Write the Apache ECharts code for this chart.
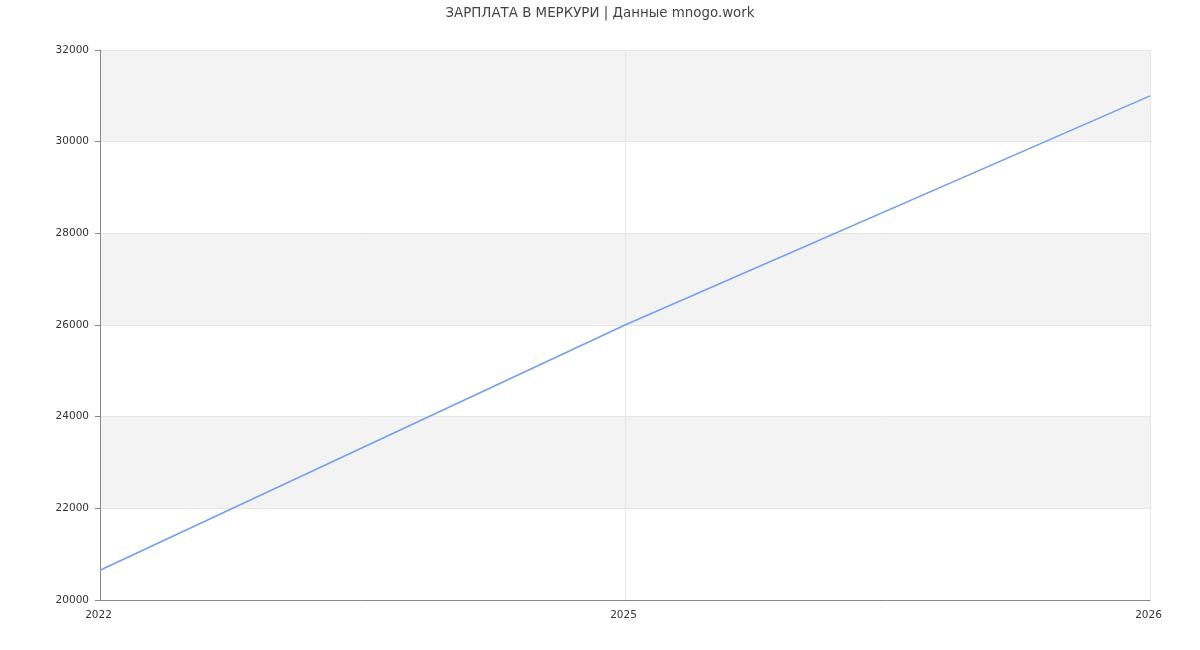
<!DOCTYPE html>
<html>
<head>
<meta charset="utf-8">
<script src="https://cdn.jsdelivr.net/npm/echarts@6/dist/echarts.min.js"></script>
<style>html,body{margin:0;padding:0;background:#fff}#c{width:1200px;height:650px}</style>
</head>
<body>
<div id="c"></div>
<script>
const years = ['2022', '2025', '2026'];
const salary = [20650, 26000, 31000];
const yTicks = { min: 20000, max: 32000, step: 2000 };
const titleText = 'ЗАРПЛАТА В МЕРКУРИ | Данные mnogo.work';

const chart = echarts.init(document.getElementById('c'), null, { renderer: 'canvas' });
chart.setOption({
  animation: false,
  backgroundColor: '#fff',
  textStyle: { fontFamily: 'DejaVu Sans' },
  title: {
    text: titleText,
    left: 'center',
    top: 2,
    textStyle: { fontSize: 13.4, fontWeight: 'normal', color: '#444', fontFamily: 'DejaVu Sans' }
  },
  grid: { left: 100, right: 50, top: 50, bottom: 50, containLabel: false, show: false },
  xAxis: {
    type: 'category',
    data: years,
    boundaryGap: false,
    axisLine: { show: true, lineStyle: { color: '#888', width: 1 } },
    axisTick: { show: false },
    axisLabel: { color: '#333', fontSize: 10.5, margin: 10, fontFamily: 'DejaVu Sans', padding: [0, 3, 0, 0] },
    splitLine: { show: true, lineStyle: { color: '#e6e6e6', width: 1 } }
  },
  yAxis: {
    type: 'value',
    min: yTicks.min,
    max: yTicks.max,
    interval: yTicks.step,
    axisLine: { show: true, lineStyle: { color: '#888', width: 1 } },
    axisTick: { show: true, length: 5, lineStyle: { color: '#888' } },
    axisLabel: { color: '#333', fontSize: 10.5, margin: 11, fontFamily: 'DejaVu Sans', padding: [1, 0, 0, 0], formatter: v => String(v) },
    splitLine: { show: true, lineStyle: { color: '#e6e6e6', width: 1 } },
    splitArea: { show: true, areaStyle: { color: ['rgba(255,255,255,0)', '#f3f3f3'] } }
  },
  series: [{
    type: 'line',
    data: salary,
    symbol: 'none',
    lineStyle: { color: '#739ef0', width: 1.5 },
    itemStyle: { color: '#739ef0' }
  }]
});
</script>
</body>
</html>
